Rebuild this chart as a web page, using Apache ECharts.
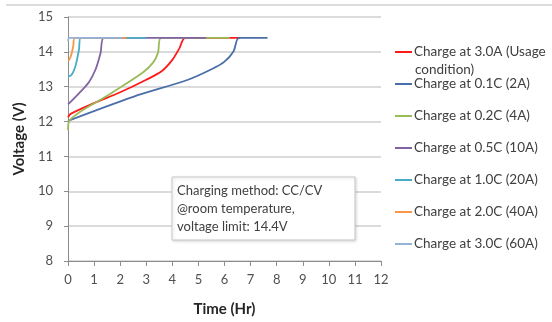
<!DOCTYPE html>
<html><head><meta charset="utf-8">
<script src="https://cdn.jsdelivr.net/npm/echarts@6/dist/echarts.min.js"></script>
<style>html,body{margin:0;padding:0;background:#fff}#c{width:552px;height:322px}</style>
</head><body><div id="c"></div>
<script>
const seriesNames = ['Charge at 3.0A (Usage condition)','Charge at 0.1C (2A)','Charge at 0.2C (4A)','Charge at 0.5C (10A)','Charge at 1.0C (20A)','Charge at 2.0C (40A)','Charge at 3.0C (60A)'];
const t_30A  = [0, 0.1, 1.0, 2.0, 3.0, 3.6, 4.0, 4.27, 4.5, 6.6];
const v_30A  = [12.12, 12.22, 12.53, 12.84, 13.2, 13.45, 13.77, 14.1, 14.4, 14.4];
const t_01C  = [0, 2.5, 4.6, 5.5, 6.0, 6.35, 6.56, 7.65];
const v_01C  = [12.02, 12.71, 13.2, 13.5, 13.72, 14.02, 14.4, 14.4];
const t_02C  = [0, 0.05, 1.5, 2.87, 3.26, 3.45, 3.57, 6.2];
const v_02C  = [11.75, 12.02, 12.74, 13.41, 13.69, 13.97, 14.4, 14.4];
const t_05C  = [0, 0.05, 0.42, 0.8, 1.06, 1.25, 1.38, 5.3];
const v_05C  = [12.5, 12.53, 12.81, 13.13, 13.5, 13.97, 14.4, 14.4];
const t_10C  = [0, 0.05, 0.17, 0.29, 0.42, 0.49, 3.0];
const v_10C  = [13.3, 13.3, 13.38, 13.6, 14.06, 14.4, 14.4];
const t_20C  = [0, 0.05, 0.12, 0.2, 0.26, 2.25];
const v_20C  = [13.75, 13.78, 13.9, 14.16, 14.4, 14.4];
const t_30C  = [0, 0.05, 2.1];
const v_30C  = [14.3, 14.4, 14.4];
const xTicks = [0,1,2,3,4,5,6,7,8,9,10,11,12];
const yTicks = [8,9,10,11,12,13,14,15];
const colors = ['#FF1A1A','#4A6EA8','#9BBB59','#8064A2','#4BACC6','#F79646','#95B3D7'];
const times = [t_30A,t_01C,t_02C,t_05C,t_10C,t_20C,t_30C];
const volts = [v_30A,v_01C,v_02C,v_05C,v_10C,v_20C,v_30C];

const FONT = 'Lato';
const chart = echarts.init(document.getElementById('c'), null, {renderer:'canvas'});
const series = seriesNames.map((n,i)=>({
  name:n, type:'line', showSymbol:false, smooth:0.3,
  data: times[i].map((t,k)=>[t, volts[i][k]]),
  lineStyle:{color:colors[i], width:1.8}, itemStyle:{color:colors[i]},
  z: 2+i, animation:false
}));
const legendTops = [53,85,117,149,181,213,245];
const legends = seriesNames.map((n,i)=>({
  data:[n], left:395, top:legendTops[i]-8, orient:'vertical',
  itemWidth:17, itemHeight:2, icon:'rect', itemGap:0, padding:0,
  formatter: i===0 ? ()=> 'Charge at 3.0A (Usage' : undefined,
  textStyle:{fontFamily:FONT, fontSize:13.5, color:'#404040', padding:[0,0,0,-3]}
}));
chart.setOption({
  animation:false,
  grid:{left:68, right:171, top:17, bottom:54, containLabel:false},
  legend: legends,
  xAxis:{type:'value', min:0, max:12, interval:1,
    name:'Time (Hr)', nameLocation:'middle', nameGap:41,
    nameTextStyle:{fontFamily:FONT, fontWeight:'bold', fontSize:15, color:'#262626'},
    axisLine:{lineStyle:{color:'#8c8c8c'}}, axisTick:{show:true, length:5, lineStyle:{color:'#8c8c8c'}},
    axisLabel:{fontFamily:FONT, fontSize:13, color:'#505050', margin:12, formatter:v=>xTicks.includes(v)?String(v):''},
    splitLine:{show:false}},
  yAxis:{type:'value', min:8, max:15, interval:1,
    name:'Voltage (V)', nameLocation:'middle', nameGap:33,
    nameTextStyle:{fontFamily:FONT, fontWeight:'bold', fontSize:15, color:'#262626'},
    axisLine:{show:true, lineStyle:{color:'#8c8c8c'}}, axisTick:{show:true, length:4, lineStyle:{color:'#8c8c8c'}},
    axisLabel:{fontFamily:FONT, fontSize:13, color:'#505050', margin:15, formatter:v=>yTicks.includes(v)?String(v):''},
    splitLine:{show:true, lineStyle:{color:'#cfcfcf', width:1.5}}},
  series: series,
  graphic:[
    {type:'line', shape:{x1:6,y1:5,x2:552,y2:5}, style:{stroke:'#d0d0d0', lineWidth:1.5}, silent:true},
    {type:'text', left:415, top:63, style:{text:'condition)', font:'13.5px '+FONT, fill:'#404040'}},
    {type:'rect', shape:{x:172, y:177, width:183, height:63}, style:{fill:'#fff', stroke:'#c9c9c9', lineWidth:1, shadowBlur:3, shadowColor:'rgba(0,0,0,0.15)', shadowOffsetX:1, shadowOffsetY:1}, z:50},
    {type:'text', x:177, y:182, z:51, style:{text:'Charging method: CC/CV\n@room temperature,\nvoltage limit: 14.4V', font:'13px '+FONT, fill:'#404040', lineHeight:18}}
  ]
});
</script></body></html>
